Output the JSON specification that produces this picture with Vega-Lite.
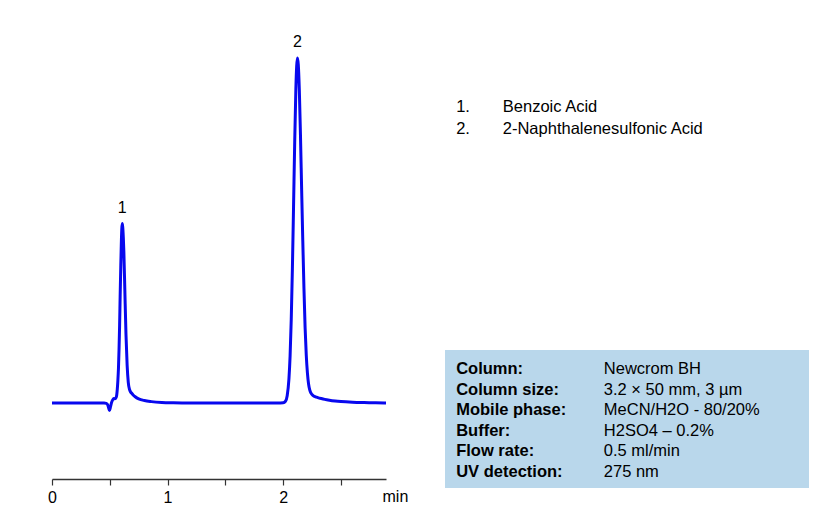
{
  "$schema": "https://vega.github.io/schema/vega-lite/v6.json",
  "background": "white",
  "padding": {"left": 46, "top": 0, "right": 0, "bottom": 0},
  "bounds": "flush",
  "spacing": 59,
  "config": {
    "view": {"stroke": null},
    "font": "Liberation Sans",
    "text": {"font": "Liberation Sans", "color": "black"},
    "axis": {"labelFont": "Liberation Sans", "titleFont": "Liberation Sans"}
  },
  "datasets": {
    "trace": [
      {"t": 0.0, "v": 0}, {"t": 0.1, "v": 0}, {"t": 0.2, "v": 0}, {"t": 0.3, "v": 0},
      {"t": 0.4, "v": 0}, {"t": 0.45, "v": 0}, {"t": 0.47, "v": -0.1}, {"t": 0.48, "v": -0.4},
      {"t": 0.49, "v": -1.4}, {"t": 0.497, "v": -2.2}, {"t": 0.505, "v": -1.3}, {"t": 0.515, "v": 0.1},
      {"t": 0.525, "v": 0.9}, {"t": 0.535, "v": 1.3}, {"t": 0.545, "v": 1.2}, {"t": 0.555, "v": 1.6},
      {"t": 0.56, "v": 2.3}, {"t": 0.565, "v": 4.0}, {"t": 0.57, "v": 6.5}, {"t": 0.575, "v": 10},
      {"t": 0.58, "v": 15.5}, {"t": 0.585, "v": 22.5}, {"t": 0.59, "v": 31.5}, {"t": 0.595, "v": 39.5},
      {"t": 0.6, "v": 46.5}, {"t": 0.604, "v": 50.5}, {"t": 0.608, "v": 52}, {"t": 0.612, "v": 51},
      {"t": 0.617, "v": 48}, {"t": 0.622, "v": 43.5}, {"t": 0.63, "v": 33}, {"t": 0.64, "v": 20},
      {"t": 0.65, "v": 11}, {"t": 0.66, "v": 6}, {"t": 0.67, "v": 4}, {"t": 0.68, "v": 3.2},
      {"t": 0.69, "v": 2.8}, {"t": 0.7, "v": 2.4}, {"t": 0.72, "v": 1.8}, {"t": 0.75, "v": 1.2},
      {"t": 0.8, "v": 0.7}, {"t": 0.86, "v": 0.4}, {"t": 0.95, "v": 0.15}, {"t": 1.05, "v": 0.05},
      {"t": 1.2, "v": 0}, {"t": 1.4, "v": 0}, {"t": 1.6, "v": 0}, {"t": 1.8, "v": 0},
      {"t": 1.95, "v": 0}, {"t": 2.0, "v": 0.06}, {"t": 2.02, "v": 0.5}, {"t": 2.035, "v": 2.1},
      {"t": 2.05, "v": 6.9}, {"t": 2.06, "v": 13.5}, {"t": 2.07, "v": 24.1}, {"t": 2.08, "v": 38.9},
      {"t": 2.09, "v": 56.9}, {"t": 2.1, "v": 75.5}, {"t": 2.11, "v": 90.9}, {"t": 2.117, "v": 97.6},
      {"t": 2.124, "v": 100}, {"t": 2.131, "v": 98.1}, {"t": 2.14, "v": 90.8}, {"t": 2.15, "v": 77.5},
      {"t": 2.16, "v": 62}, {"t": 2.17, "v": 47}, {"t": 2.18, "v": 33.3}, {"t": 2.19, "v": 21.9},
      {"t": 2.2, "v": 13.9}, {"t": 2.21, "v": 8.7}, {"t": 2.22, "v": 5.5}, {"t": 2.23, "v": 3.8},
      {"t": 2.24, "v": 2.9}, {"t": 2.26, "v": 2.15}, {"t": 2.28, "v": 1.8}, {"t": 2.3, "v": 1.57},
      {"t": 2.33, "v": 1.29}, {"t": 2.36, "v": 1.05}, {"t": 2.4, "v": 0.81}, {"t": 2.45, "v": 0.58},
      {"t": 2.5, "v": 0.41}, {"t": 2.6, "v": 0.21}, {"t": 2.7, "v": 0.11}, {"t": 2.8, "v": 0.05},
      {"t": 2.89, "v": 0.03}
    ],
    "peaks": [
      {"peak": 1, "num": "1.", "name": "Benzoic Acid", "t": 0.608, "v": 52},
      {"peak": 2, "num": "2.", "name": "2-Naphthalenesulfonic Acid", "t": 2.124, "v": 100}
    ],
    "conditions": [
      {"row": 1, "param": "Column:", "value": "Newcrom BH"},
      {"row": 2, "param": "Column size:", "value": "3.2 × 50 mm, 3 µm"},
      {"row": 3, "param": "Mobile phase:", "value": "MeCN/H2O - 80/20%"},
      {"row": 4, "param": "Buffer:", "value": "H2SO4 – 0.2%"},
      {"row": 5, "param": "Flow rate:", "value": "0.5 ml/min"},
      {"row": 6, "param": "UV detection:", "value": "275 nm"}
    ]
  },
  "hconcat": [
    {
      "width": 334,
      "height": 479,
      "layer": [
        {
          "data": {"name": "trace"},
          "mark": {"type": "line", "color": "#0808ee", "strokeWidth": 3, "interpolate": "monotone"},
          "encoding": {
            "x": {
              "field": "t", "type": "quantitative",
              "scale": {"domain": [0, 2.89], "nice": false, "zero": false},
              "axis": {
                "values": [0, 0.5, 1, 1.5, 2, 2.5],
                "labelExpr": "datum.value % 1 === 0 ? format(datum.value, 'd') : ''",
                "labelOverlap": false,
                "labelFlush": false,
                "grid": false,
                "domainColor": "#333333",
                "domainWidth": 1.5,
                "tickColor": "#333333",
                "tickWidth": 1.2,
                "tickSize": 6,
                "labelFontSize": 16,
                "labelColor": "black",
                "labelPadding": 4,
                "title": "min",
                "titleFontSize": 16,
                "titleFontWeight": "normal",
                "titleColor": "black",
                "titleX": 330,
                "titleY": 22,
                "titleAlign": "left",
                "titleBaseline": "alphabetic"
              }
            },
            "y": {
              "field": "v", "type": "quantitative",
              "scale": {"domain": [-22.03, 116.81], "nice": false, "zero": false},
              "axis": null
            }
          }
        },
        {
          "data": {"name": "peaks"},
          "mark": {"type": "text", "dy": -11, "baseline": "alphabetic", "align": "center", "fontSize": 16},
          "encoding": {
            "x": {"field": "t", "type": "quantitative"},
            "y": {"field": "v", "type": "quantitative"},
            "text": {"field": "peak", "type": "nominal"}
          }
        }
      ]
    },
    {
      "bounds": "flush",
      "spacing": 200,
      "vconcat": [
        {
          "width": 139.8,
          "height": 150,
          "data": {"name": "peaks"},
          "encoding": {
            "y": {
              "field": "peak", "type": "quantitative",
              "scale": {"domain": [-3.908, 2.973], "nice": false, "zero": false, "reverse": true},
              "axis": null
            }
          },
          "layer": [
            {
              "mark": {"type": "text", "align": "left", "baseline": "middle", "fontSize": 16.5},
              "encoding": {
                "x": {"datum": "num", "type": "nominal",
                  "scale": {"type": "point", "domain": ["num", "name"], "padding": 1, "align": 0.12},
                  "axis": null},
                "text": {"field": "num"}
              }
            },
            {
              "mark": {"type": "text", "align": "left", "baseline": "middle", "fontSize": 16.5},
              "encoding": {
                "x": {"datum": "name", "type": "nominal"},
                "text": {"field": "name"}
              }
            }
          ]
        },
        {
          "width": 364,
          "height": 138,
          "view": {"fill": "#b9d7eb", "stroke": null},
          "data": {"name": "conditions"},
          "encoding": {
            "y": {
              "field": "row", "type": "ordinal",
              "scale": {"type": "point", "padding": 0.858, "align": 0.545},
              "axis": null
            }
          },
          "layer": [
            {
              "mark": {"type": "text", "align": "left", "baseline": "middle", "fontSize": 16.5, "fontWeight": "bold"},
              "encoding": {
                "x": {"datum": "param", "type": "nominal",
                  "scale": {"type": "point", "domain": ["param", "value"], "padding": 0.733, "align": 0.0518},
                  "axis": null},
                "text": {"field": "param"}
              }
            },
            {
              "mark": {"type": "text", "align": "left", "baseline": "middle", "fontSize": 16.5},
              "encoding": {
                "x": {"datum": "value", "type": "nominal"},
                "text": {"field": "value"}
              }
            }
          ]
        }
      ]
    }
  ]
}
